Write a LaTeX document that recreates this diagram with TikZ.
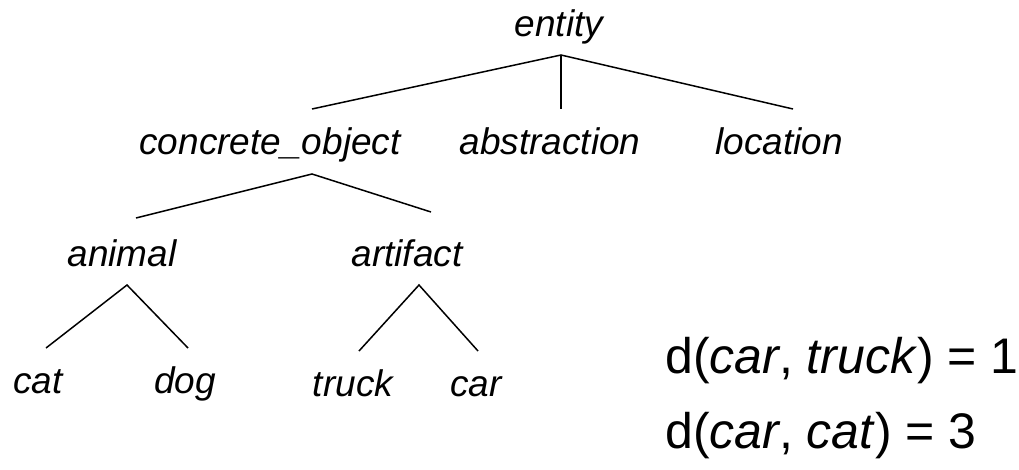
\documentclass[tikz,border=0pt]{standalone}
\usepackage{fontspec}
\setmainfont{Liberation Sans}
\begin{document}
\begin{tikzpicture}[x=1pt,y=-1pt,
  term/.style={font=\fontsize{37}{40}\selectfont\itshape, anchor=base, inner sep=0pt},
  dist/.style={font=\fontsize{50}{54}\selectfont, anchor=base west, inner sep=0pt},
  edge/.style={line width=1.5pt, line cap=butt}]
\useasboundingbox (0,0) rectangle (1019,469);

% taxonomy labels
\node[term] (entity)   at (559,36)  {entity};
\node[term] (concrete) at (270,154) {concrete\_object};
\node[term] (abstr)    at (550,154) {abstraction};
\node[term] (location) at (779,154) {location};
\node[term] (animal)   at (122,266) {animal};
\node[term] (artifact) at (407,266) {artifact};
\node[term] (cat)      at (38,393)  {cat};
\node[term] (dog)      at (185,393) {dog};
\node[term] (truck)    at (353,396) {truck};
\node[term] (car)      at (476,396) {car};

% branch points and branch ends
\coordinate (entity-j)   at (561,55);
\coordinate (concrete-t) at (312,109);
\coordinate (abstr-t)    at (561,109);
\coordinate (location-t) at (793,109);
\coordinate (concrete-j) at (312,174);
\coordinate (animal-t)   at (136,218);
\coordinate (artifact-t) at (431,212);
\coordinate (animal-j)   at (127,285);
\coordinate (cat-t)      at (46,348);
\coordinate (dog-t)      at (188,348);
\coordinate (artifact-j) at (419,285);
\coordinate (truck-t)    at (359,351);
\coordinate (car-t)      at (478,351);

\draw[edge] (concrete-t) -- (entity-j) -- (location-t);
\draw[edge] (entity-j) -- (abstr-t);
\draw[edge] (animal-t) -- (concrete-j) -- (artifact-t);
\draw[edge] (cat-t) -- (animal-j) -- (dog-t);
\draw[edge] (truck-t) -- (artifact-j) -- (car-t);

% distances
\node[dist] (d1) at (665,373) {d(\textit{car}, \textit{truck}) = 1};
\node[dist] (d2) at (665,448) {d(\textit{car}, \textit{cat}) = 3};
\end{tikzpicture}
\end{document}
